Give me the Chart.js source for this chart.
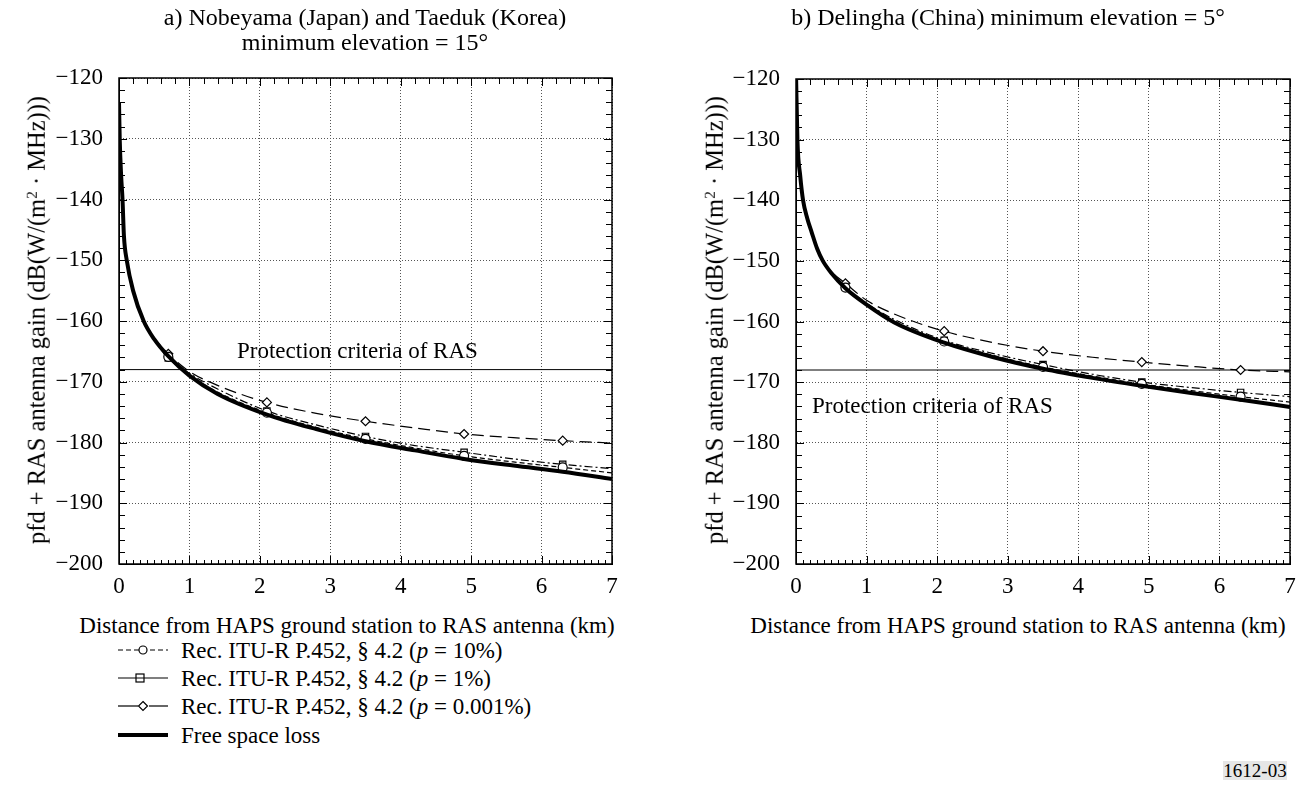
<!DOCTYPE html>
<html>
<head>
<meta charset="utf-8">
<title>pfd + RAS antenna gain vs distance</title>
<script src="https://cdn.jsdelivr.net/npm/chart.js@4.4.1/dist/chart.umd.min.js"></script>
<style>
  body {
    margin: 0;
    width: 1311px;
    height: 793px;
    position: relative;
    overflow: hidden;
    background: #fff;
    color: #000;
    font-family: "Liberation Serif", "Times New Roman", serif;
  }
  canvas { position: absolute; top: 0; }
  .t {
    position: absolute;
    white-space: nowrap;
    font-size: 23px;
    line-height: 1;
    transform: translate(-50%, -50%);
  }
  .title { font-size: 24px; }
  .left { transform: translate(0, -50%); }
  .rot { font-size: 24.5px; transform: translate(-50%, -50%) rotate(-90deg); }
  sup { font-size: 0.62em; vertical-align: 0.55em; line-height: 0; }
  .legend-row { position: absolute; left: 118px; height: 24px; transform: translateY(-50%); }
  .legend-row svg { position: absolute; left: 0; top: 0; }
  .legend-row span { position: absolute; left: 63px; top: 50%; transform: translateY(-50%); font-size: 23px; white-space: nowrap; line-height: 1; }
  .fig-no { position: absolute; left: 1223px; top: 761px; width: 64px; height: 19px; background: #e6e6e6; font-size: 19px; line-height: 19px; text-align: center; }
</style>
</head>
<body>
<canvas id="chart-a" width="655" height="600" style="left:0"></canvas>
<canvas id="chart-b" width="656" height="600" style="left:655px"></canvas>

<div class="t title" style="left:365px;top:17px">a) Nobeyama (Japan) and Taeduk (Korea)</div>
<div class="t title" style="left:365px;top:42px">minimum elevation = 15°</div>
<div class="t title" style="left:1008px;top:17px">b) Delingha (China) minimum elevation = 5°</div>

<div class="t rot" style="left:37px;top:320px">pfd + RAS antenna gain (dB(W/(m<sup>2</sup> · MHz)))</div>
<div class="t rot" style="left:715px;top:320px">pfd + RAS antenna gain (dB(W/(m<sup>2</sup> · MHz)))</div>

<div class="t" style="left:347px;top:625px">Distance from HAPS ground station to RAS antenna (km)</div>
<div class="t" style="left:1018px;top:625px">Distance from HAPS ground station to RAS antenna (km)</div>

<div class="t left" style="left:237px;top:350px">Protection criteria of RAS</div>
<div class="t left" style="left:812px;top:405px">Protection criteria of RAS</div>

<div class="legend-row" style="top:650px">
  <svg width="52" height="24"><line x1="0" y1="12" x2="50" y2="12" stroke="#000" stroke-width="1.2" stroke-dasharray="5 3"/><circle cx="25" cy="12" r="4" fill="#fff" stroke="#000" stroke-width="1.2"/></svg>
  <span>Rec. ITU-R P.452, § 4.2 (<i>p</i> = 10%)</span>
</div>
<div class="legend-row" style="top:678px">
  <svg width="52" height="24"><line x1="0" y1="12" x2="50" y2="12" stroke="#000" stroke-width="1.2"/><rect x="18" y="8" width="8" height="8" fill="#fff" stroke="#000" stroke-width="1.2"/><line x1="18" y1="12" x2="26" y2="12" stroke="#000" stroke-width="1"/></svg>
  <span>Rec. ITU-R P.452, § 4.2 (<i>p</i> = 1%)</span>
</div>
<div class="legend-row" style="top:706px">
  <svg width="52" height="24"><line x1="0" y1="12" x2="20" y2="12" stroke="#000" stroke-width="1.2"/><line x1="31" y1="12" x2="50" y2="12" stroke="#000" stroke-width="1.2"/><polygon points="25,7.5 29.5,12 25,16.5 20.5,12" fill="#fff" stroke="#000" stroke-width="1.2"/></svg>
  <span>Rec. ITU-R P.452, § 4.2 (<i>p</i> = 0.001%)</span>
</div>
<div class="legend-row" style="top:735px">
  <svg width="52" height="24"><line x1="0" y1="12" x2="50" y2="12" stroke="#000" stroke-width="4"/></svg>
  <span>Free space loss</span>
</div>

<div class="fig-no">1612-03</div>

<script>
"use strict";

// ---- data ----
const markerKm = [0.7, 2.1, 3.5, 4.9, 6.3];
const protectionDb = -168;
const xTicksKm = [0, 1, 2, 3, 4, 5, 6, 7];
const yTicksDb = [-200, -190, -180, -170, -160, -150, -140, -130, -120];

// a) Nobeyama / Taeduk, min elevation 15 deg
const freeDistA = [0, 0.01, 0.03, 0.05, 0.07, 0.11, 0.2, 0.35, 0.5, 0.7, 1.0, 1.4, 2.1, 2.8, 3.5, 4.2, 4.9, 5.6, 6.3, 7.0];
const freeSpaceA = [-124, -130, -136, -140, -146, -150, -155, -160, -163, -165.8, -169, -172, -175.4, -177.8, -179.8, -181.3, -182.7, -183.8, -184.8, -186];
const p452DistA = [0.35, 0.5, 0.7, 1.0, 1.4, 2.1, 2.8, 3.5, 4.2, 4.9, 5.6, 6.3, 7.0];
const p10A = [-160, -163, -165.9, -168.9, -171.7, -175.1, -177.5, -179.4, -180.9, -182.2, -183.2, -184.1, -185.0];
const p1A = [-160, -163, -166.1, -168.6, -171.2, -174.8, -177.1, -179.0, -180.5, -181.6, -182.7, -183.6, -184.3];
const p0001A = [-160, -162.8, -165.4, -168.3, -170.6, -173.4, -175.2, -176.5, -177.6, -178.6, -179.2, -179.7, -180.1];

// b) Delingha, min elevation 5 deg
const freeDistB = [0, 0.02, 0.06, 0.1, 0.16, 0.22, 0.3, 0.38, 0.5, 0.7, 1.0, 1.4, 2.1, 2.8, 3.5, 4.2, 4.9, 5.6, 6.3, 7.0];
const freeSpaceB = [-119, -130, -136, -140, -143, -145.2, -148, -150, -152, -154.5, -157.2, -160.2, -163.5, -165.9, -167.8, -169.3, -170.6, -171.8, -172.9, -174.1];
const p452DistB = [0.38, 0.5, 0.7, 1.0, 1.4, 2.1, 2.8, 3.5, 4.2, 4.9, 5.6, 6.3, 7.0];
const p10B = [-150, -152, -154.4, -157.1, -160, -163.3, -165.6, -167.5, -169.0, -170.3, -171.4, -172.4, -173.3];
const p1B = [-150, -152, -154.3, -157, -159.7, -163.1, -165.3, -167.1, -168.7, -170.0, -170.9, -171.7, -172.4];
const p0001B = [-150, -151.8, -153.7, -156.5, -158.8, -161.6, -163.5, -164.9, -165.9, -166.7, -167.4, -168.0, -168.3];

const SERIF = "Liberation Serif";
const FONT = { family: SERIF, size: 23 };

function zip(xs, ys) {
  return xs.map((x, i) => ({ x, y: ys[i] }));
}

function markerRadius(ctx) {
  return ctx.raw && markerKm.includes(ctx.raw.x) ? 4.5 : 0;
}

function minusLabel(v) {
  return v < 0 ? "\u2212" + Math.abs(v) : String(v);
}

// box frame and inward minor/major ticks on all four sides
const frameTicks = {
  id: "frameTicks",
  afterDraw(chart) {
    const { ctx, chartArea: a, scales } = chart;
    const x = scales.x;
    const y = scales.y;
    const xMin = xTicksKm[0];
    const xMax = xTicksKm[xTicksKm.length - 1];
    const yMin = yTicksDb[0];
    const yMax = yTicksDb[yTicksDb.length - 1];
    ctx.save();
    ctx.strokeStyle = "#000";
    ctx.lineWidth = 1;
    ctx.beginPath();
    // bottom: every 0.1 km
    for (let i = 0; i <= (xMax - xMin) * 10; i++) {
      const px = Math.round(x.getPixelForValue(xMin + i / 10)) + 0.5;
      ctx.moveTo(px, a.bottom);
      ctx.lineTo(px, a.bottom - (i % 10 === 0 ? 8 : 4));
    }
    // top: every 0.2 km
    for (let i = 0; i <= (xMax - xMin) * 5; i++) {
      const px = Math.round(x.getPixelForValue(xMin + i / 5)) + 0.5;
      ctx.moveTo(px, a.top);
      ctx.lineTo(px, a.top + (i % 5 === 0 ? 8 : 6));
    }
    // left / right: every 2 dB
    for (let v = yMin; v <= yMax; v += 2) {
      const py = Math.round(y.getPixelForValue(v)) + 0.5;
      const len = v % 10 === 0 ? 8 : 6;
      ctx.moveTo(a.left, py);
      ctx.lineTo(a.left + len, py);
      ctx.moveTo(a.right, py);
      ctx.lineTo(a.right - len, py);
    }
    ctx.stroke();
    ctx.lineWidth = 1.5;
    ctx.strokeRect(a.left, a.top, a.right - a.left, a.bottom - a.top);
    ctx.restore();
  },
};

function buildDatasets(freeDist, freeVals, pDist, p10, p1, p0001) {
  const maxKm = xTicksKm[xTicksKm.length - 1];
  return [
    {
      label: "Free space loss",
      data: zip(freeDist, freeVals),
      borderColor: "#000",
      borderWidth: 4,
      pointRadius: 0,
      cubicInterpolationMode: "monotone",
    },
    {
      label: "Rec. ITU-R P.452, § 4.2 (p = 10%)",
      data: zip(pDist, p10),
      borderColor: "#000",
      borderWidth: 1.2,
      borderDash: [5, 3],
      pointStyle: "circle",
      pointRadius: markerRadius,
      pointBackgroundColor: "#fff",
      pointBorderColor: "#000",
      pointBorderWidth: 1.2,
      cubicInterpolationMode: "monotone",
    },
    {
      label: "Rec. ITU-R P.452, § 4.2 (p = 1%)",
      data: zip(pDist, p1),
      borderColor: "#000",
      borderWidth: 1.2,
      borderDash: [8, 3, 2, 3],
      pointStyle: "rect",
      pointRadius: markerRadius,
      pointBackgroundColor: "#fff",
      pointBorderColor: "#000",
      pointBorderWidth: 1.2,
      cubicInterpolationMode: "monotone",
    },
    {
      label: "Rec. ITU-R P.452, § 4.2 (p = 0.001%)",
      data: zip(pDist, p0001),
      borderColor: "#000",
      borderWidth: 1.2,
      borderDash: [12, 6],
      pointStyle: "rectRot",
      pointRadius: markerRadius,
      pointBackgroundColor: "#fff",
      pointBorderColor: "#000",
      pointBorderWidth: 1.2,
      cubicInterpolationMode: "monotone",
    },
    {
      label: "Protection criteria of RAS",
      data: [
        { x: xTicksKm[0], y: protectionDb },
        { x: maxKm, y: protectionDb },
      ],
      borderColor: "#000",
      borderWidth: 1,
      pointRadius: 0,
    },
  ];
}

function buildOptions(yAxisWidth, padRight, padTop) {
  return {
    responsive: false,
    animation: false,
    devicePixelRatio: 1,
    layout: { padding: { left: 0, right: padRight, top: padTop, bottom: 0 } },
    plugins: { legend: { display: false }, tooltip: { enabled: false } },
    scales: {
      x: {
        type: "linear",
        min: xTicksKm[0],
        max: xTicksKm[xTicksKm.length - 1],
        afterFit: (scale) => { scale.height = 36; },
        afterBuildTicks: (scale) => { scale.ticks = xTicksKm.map((v) => ({ value: v })); },
        ticks: { color: "#000", font: FONT, padding: 9, maxRotation: 0, callback: minusLabel },
        grid: { color: "#555", lineWidth: 1, drawTicks: false },
        border: { display: true, color: "#000", width: 1, dash: [1, 2] },
      },
      y: {
        type: "linear",
        min: yTicksDb[0],
        max: yTicksDb[yTicksDb.length - 1],
        afterFit: (scale) => { scale.width = yAxisWidth; },
        afterBuildTicks: (scale) => { scale.ticks = yTicksDb.map((v) => ({ value: v })); },
        ticks: { color: "#000", font: FONT, padding: 16, callback: minusLabel },
        grid: { color: "#555", lineWidth: 1, drawTicks: false },
        border: { display: true, color: "#000", width: 1, dash: [1, 2] },
      },
    },
  };
}

function drawCharts() {
  Chart.defaults.font.family = SERIF;
  new Chart(document.getElementById("chart-a"), {
    type: "line",
    data: { datasets: buildDatasets(freeDistA, freeSpaceA, p452DistA, p10A, p1A, p0001A) },
    options: buildOptions(119, 43, 78),
    plugins: [frameTicks],
  });
  new Chart(document.getElementById("chart-b"), {
    type: "line",
    data: { datasets: buildDatasets(freeDistB, freeSpaceB, p452DistB, p10B, p1B, p0001B) },
    options: buildOptions(141, 21, 79),
    plugins: [frameTicks],
  });
}

drawCharts();
</script>
</body>
</html>
